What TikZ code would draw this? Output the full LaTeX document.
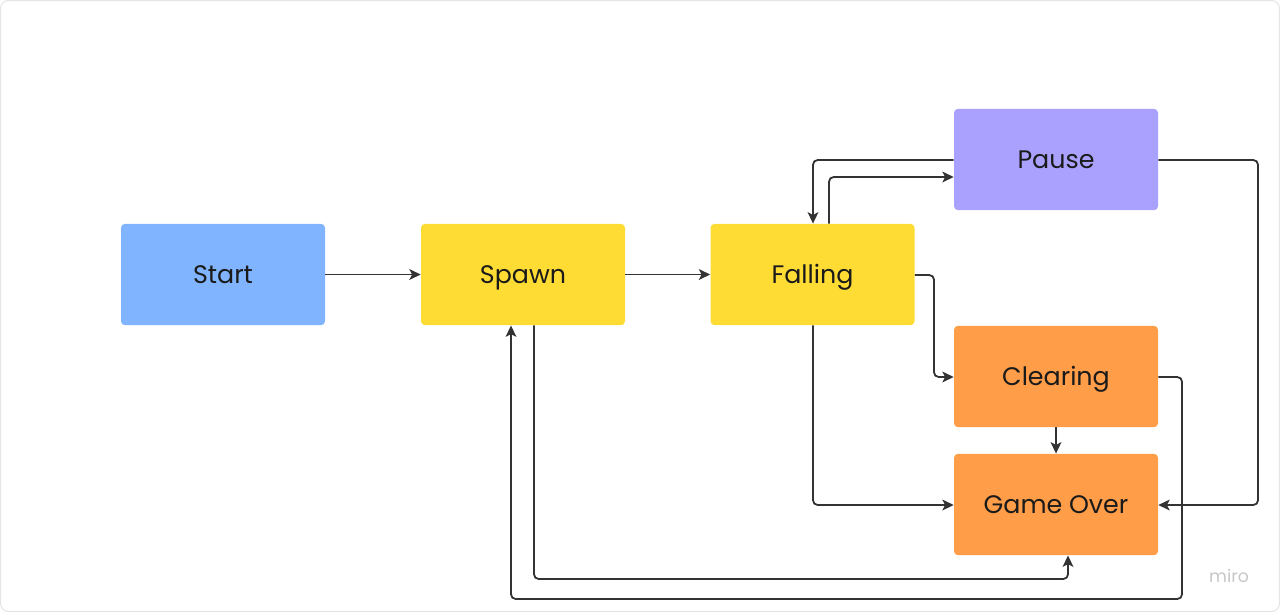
\documentclass[tikz,border=0pt]{standalone}
\usepackage{fontspec}
\setmainfont{Poppins}
\usetikzlibrary{arrows.meta}
\definecolor{cblue}{HTML}{80B4FF}
\definecolor{cyellow}{HTML}{FFDC34}
\definecolor{cpurple}{HTML}{AAA1FF}
\definecolor{corange}{HTML}{FF9D48}
\definecolor{cline}{HTML}{333333}
\definecolor{ctext}{HTML}{1A1A1A}
\begin{document}
\begin{tikzpicture}[x=0.75pt,y=-0.75pt,
  state/.style={rounded corners=3pt, minimum width=153pt, minimum height=76pt, inner sep=0pt, text=ctext, font=\fontsize{19}{21}\selectfont, text height=13.3pt, text depth=0pt},
  conn/.style={draw=cline, line width=1.35pt, rounded corners=3.5pt, -{Stealth[length=8.5pt,width=8pt,inset=2pt]}}]
\useasboundingbox (0,0) rectangle (1280,612);
\draw[draw=black!10, line width=0.8pt, rounded corners=6pt] (0.5,0.5) rectangle (1279.5,611.5);
\node[state, fill=cblue] (start) at (223,274.5) {Start};
\node[state, fill=cyellow] (spawn) at (523,274.5) {Spawn};
\node[state, fill=cyellow] (fall) at (812.5,274.5) {Falling};
\node[state, fill=cpurple] (pause) at (1056,159.5) {Pause};
\node[state, fill=corange] (clear) at (1056,376.5) {Clearing};
\node[state, fill=corange] (over) at (1056,504.5) {Game Over};
\node[text=black!22, font=\fontsize{13}{14}\selectfont] (logo) at (1229,576) {miro};
\draw[conn] (start.east) -- (spawn.west);
\draw[conn] (spawn.east) -- (fall.west);
\draw[conn] (fall.north -| 829,0) -- (829,177) -- (pause.west |- 0,177);
\draw[conn] (pause.west |- 0,160) -- (813,160) -- (fall.north -| 813,0);
\draw[conn] (fall.east |- 0,275) -- (934,275) -- (934,377) -- (clear.west |- 0,377);
\draw[conn] (fall.south -| 813,0) -- (813,505) -- (over.west |- 0,505);
\draw[conn] (clear.south) -- (over.north);
\draw[conn] (pause.east |- 0,160) -- (1258,160) -- (1258,505) -- (over.east |- 0,505);
\draw[conn] (clear.east |- 0,377) -- (1182,377) -- (1182,599) -- (511,599) -- (spawn.south -| 511,0);
\draw[conn] (spawn.south -| 534,0) -- (534,579) -- (1068,579) -- (over.south -| 1068,0);
\end{tikzpicture}
\end{document}
